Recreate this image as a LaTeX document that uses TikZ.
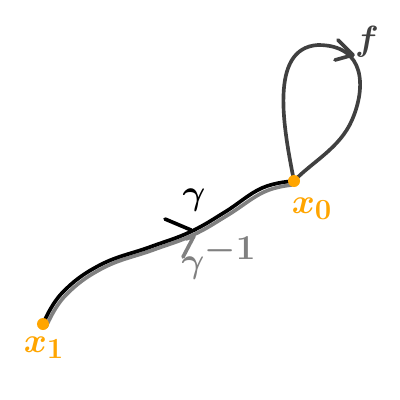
\documentclass[tikz,border=0pt]{standalone}
\usepackage{amsmath}
\usepackage{tikz}
\usetikzlibrary{positioning}
\definecolor{pointorange}{RGB}{255,165,0}
\definecolor{shadowgray}{RGB}{128,128,128}
\definecolor{loopgray}{RGB}{64,64,64}

\begin{document}
\begin{tikzpicture}[x=0.025cm, y=-0.025cm, line cap=round, line join=round,
    pt/.style={circle, fill=pointorange, inner sep=0pt, minimum size=0.3cm},
    ptlabel/.style={text=pointorange, font=\fontsize{28}{30}\selectfont\boldmath},
    pathlabel/.style={font=\fontsize{34}{36}\selectfont\boldmath},
    pathline/.style={line width=2.6pt}]
    \useasboundingbox (0,0) rectangle (400,400);

    % base points
    \coordinate (x1) at (43,324);
    \coordinate (x0) at (294,181);

    % gamma^{-1}, drawn just under gamma
    \draw[pathline, shadowgray] plot[smooth, tension=0.7] coordinates
        {(46,327) (65,296) (103,268) (153,250) (193,235) (228,215) (264,192) (292,185)};
    % gamma
    \draw[pathline, black] plot[smooth, tension=0.7] coordinates
        {(x1) (62,293) (100,265) (150,247) (190,232) (225,212) (262,188) (x0)};

    % the loop f
    \draw[pathline, loopgray] (x0) .. controls (284,130) and (268,48) .. (318,45)
        .. controls (366,45) and (366,88) .. (352,120)
        .. controls (340,148) and (312,162) .. (x0);

    % arrow marks
    \draw[pathline, loopgray] (338,40) -- (353,55) -- (335,60);
    \draw[pathline, black] (165,219) -- (191,230);
    \draw[pathline, shadowgray] (183,257) -- (194,236) -- (186,239);

    % points and labels
    \node[pt] (p0) at (x0) {};
    \node[pt] (p1) at (x1) {};
    \node[ptlabel] (l0) at (312,209) {$x_0$};
    \node[ptlabel] (l1) at (44,348) {$x_1$};
    \node[pathlabel] (g) at (194,200) {$\gamma$};
    \node[pathlabel, text=shadowgray] (ginv) at (219,258) {$\gamma^{-1}$};
    \node[pathlabel, text=loopgray] (f) at (367,42) {$f$};
\end{tikzpicture}
\end{document}
